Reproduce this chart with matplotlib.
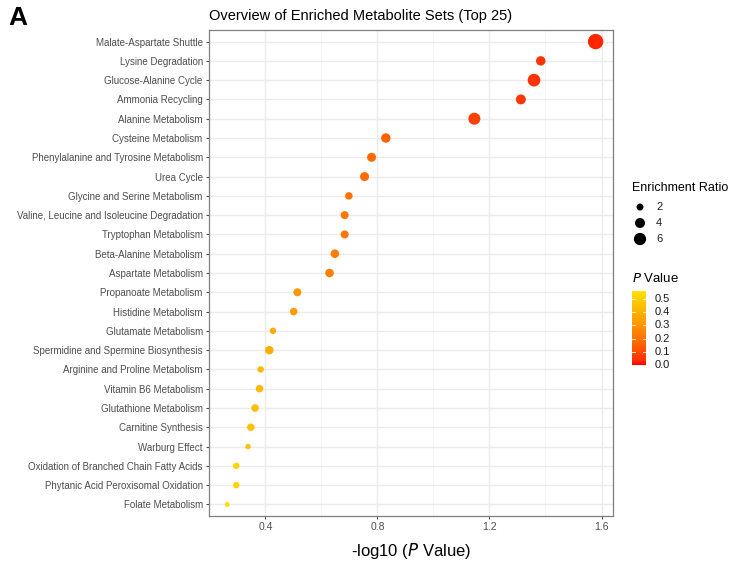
import matplotlib
matplotlib.use("Agg")
import matplotlib.pyplot as plt
import numpy as np
from matplotlib.colors import LinearSegmentedColormap, Normalize

plt.rcParams['font.family'] = ['Liberation Sans', 'DejaVu Sans']

# metabolite sets, top to bottom
sets = [
    "Malate-Aspartate Shuttle", "Lysine Degradation", "Glucose-Alanine Cycle",
    "Ammonia Recycling", "Alanine Metabolism", "Cysteine Metabolism",
    "Phenylalanine and Tyrosine Metabolism", "Urea Cycle",
    "Glycine and Serine Metabolism", "Valine, Leucine and Isoleucine Degradation",
    "Tryptophan Metabolism", "Beta-Alanine Metabolism", "Aspartate Metabolism",
    "Propanoate Metabolism", "Histidine Metabolism", "Glutamate Metabolism",
    "Spermidine and Spermine Biosynthesis", "Arginine and Proline Metabolism",
    "Vitamin B6 Metabolism", "Glutathione Metabolism", "Carnitine Synthesis",
    "Warburg Effect", "Oxidation of Branched Chain Fatty Acids",
    "Phytanic Acid Peroxisomal Oxidation", "Folate Metabolism",
]
neglog_p = [1.579, 1.383, 1.359, 1.312, 1.146, 0.830, 0.779, 0.754, 0.698,
            0.683, 0.683, 0.648, 0.629, 0.514, 0.501, 0.427, 0.414, 0.383,
            0.379, 0.363, 0.348, 0.338, 0.296, 0.296, 0.264]
enrich = [9.5, 3.6, 6.5, 4.0, 5.8, 3.6, 3.3, 3.3, 2.3, 2.6, 2.6, 3.0, 3.0,
          2.6, 2.3, 1.7, 2.9, 1.7, 2.3, 2.3, 2.3, 1.25, 1.7, 1.7, 1.0]
pvals = [10 ** (-v) for v in neglog_p]

legend_sizes = [2, 4, 6]
cbar_ticks = [0.0, 0.1, 0.2, 0.3, 0.4, 0.5]

# red -> yellow, roughly like ggplot's Lab interpolation
cmap = LinearSegmentedColormap.from_list(
    "py", [(0.0, "#FF0000"), (0.06, "#FF3000"), (0.3, "#FF6A00"),
           (0.55, "#FF9800"), (0.8, "#FFC000"), (1.0, "#FFE400")])
norm = Normalize(vmin=0.0, vmax=0.56)

def size_of(er):
    # marker area grows linearly with enrichment ratio
    return 0.52 * (25 * np.asarray(er) - 1)

W, H = 731, 562
fig = plt.figure(figsize=(W / 100, H / 100), dpi=100)

def px_axes(x0, y0, x1, y1):
    return fig.add_axes([x0 / W, 1 - y1 / H, (x1 - x0) / W, (y1 - y0) / H])

ax = px_axes(209, 30, 613, 516)
ypos = np.arange(len(sets))[::-1]
ax.scatter(neglog_p, ypos, s=size_of(enrich), c=pvals, cmap=cmap, norm=norm,
           edgecolors='none', zorder=3)

ax.set_xlim(0.1986, 1.641)
ax.set_ylim(-0.6, len(sets) - 0.4)
ax.set_xticks([0.4, 0.8, 1.2, 1.6])
ax.set_xticks([0.2, 0.6, 1.0, 1.4], minor=True)
ax.set_xticklabels(["0.4", "0.8", "1.2", "1.6"])
ax.set_yticks(ypos)
ax.set_yticklabels(sets)
ax.grid(True, which='major', color='#EBEBEB', linewidth=1.0, zorder=0)
ax.grid(True, which='minor', axis='x', color='#F2F2F2', linewidth=0.6, zorder=0)
ax.set_axisbelow(True)
for sp in ax.spines.values():
    sp.set_color('#7F7F7F')
    sp.set_linewidth(0.9)
ax.tick_params(axis='both', which='major', colors='#4D4D4D', labelsize=7,
               length=2.5, width=0.8, pad=2)
ax.tick_params(axis='x', which='major', labelsize=7.5)
ax.tick_params(axis='both', which='minor', length=0)
ax.set_xlabel(r"-log10 ($\it{P}$ Value)", fontsize=12, labelpad=6)
ax.set_title("Overview of Enriched Metabolite Sets (Top 25)", fontsize=10.5,
             pad=7, loc='left')

fig.text(8 / W, 1 - 18 / H, "A", fontsize=19, fontweight='bold', va='center')

# size legend
fig.text(632 / W, 1 - 188 / H, "Enrichment Ratio", fontsize=9, va='center')
leg_ax = px_axes(630, 198, 680, 248)
leg_ax.set_xlim(0, 50)
leg_ax.set_ylim(50, 0)
leg_ax.axis('off')
leg_ax.scatter([10] * 3, [9, 25, 41], s=size_of(legend_sizes), c='black',
               edgecolors='none', clip_on=False)
for lab, yy in zip(legend_sizes, [9, 25, 41]):
    leg_ax.text(26, yy, str(lab), fontsize=8, va='center', color='#1A1A1A')

# colour legend
fig.text(632 / W, 1 - 278 / H, r"$\it{P}$ Value", fontsize=9.5, va='center')
cax = px_axes(632, 291, 646, 365)
grad = np.linspace(0, 0.56, 200).reshape(-1, 1)
cax.imshow(grad, aspect='auto', cmap=cmap, norm=norm, origin='lower',
           extent=[0, 1, 0, 0.56])
cax.set_xlim(0, 1)
cax.set_ylim(0, 0.56)
for t in cbar_ticks:
    cax.plot([0, 0.2], [t, t], color='white', lw=0.6)
    cax.plot([0.8, 1], [t, t], color='white', lw=0.6)
    cax.text(1.6, t, f"{t:.1f}", fontsize=8, va='center', color='#1A1A1A',
             clip_on=False)
cax.axis('off')

fig.savefig("out.png", dpi=100)
